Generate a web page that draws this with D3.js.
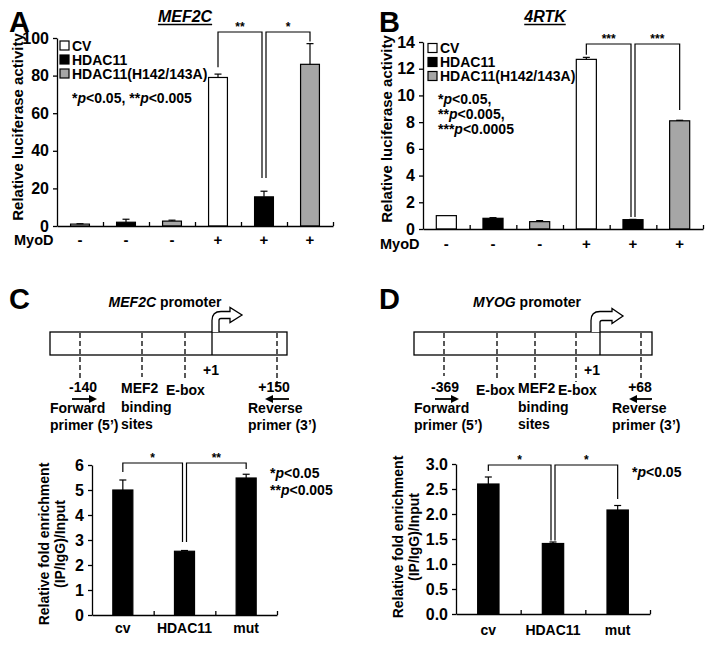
<!DOCTYPE html>
<html>
<head>
<meta charset="utf-8">
<script src="https://cdn.jsdelivr.net/npm/d3@7"></script>
<style>
body { margin: 0; background: #fff; }
svg text { font-family: "Liberation Sans", Arial, sans-serif; font-weight: bold; fill: #000; }
</style>
</head>
<body>
<svg id="fig" width="714" height="647"></svg>
<script>
// ---- data ----
var myodSigns = ["-", "-", "-", "+", "+", "+"];
var lucGroups = ["CV", "HDAC11", "HDAC11(H142/143A)"];
var lucGroupOfBar = [0, 1, 2, 0, 1, 2];
var mef2cLuc = [1.0, 2.0, 2.6, 79, 15.5, 86];
var mef2cLucErr = [0.2, 1.6, 0.5, 1.8, 3.0, 11];
var mef2cTicks = [0, 20, 40, 60, 80, 100];
var rtkLuc = [1.0, 0.8, 0.55, 12.7, 0.7, 8.1];
var rtkLucErr = [0, 0.05, 0.08, 0.15, 0.02, 0.04];
var rtkTicks = [0, 2, 4, 6, 8, 10, 12, 14];
var chipGroups = ["cv", "HDAC11", "mut"];
var chipMef2c = [5.0, 2.55, 5.48];
var chipMef2cErr = [0.4, 0.03, 0.15];
var chipMef2cTicks = [0, 1, 2, 3, 4, 5, 6];
var chipMyog = [2.6, 1.41, 2.08];
var chipMyogErr = [0.14, 0.03, 0.09];
var chipMyogTicks = [0, 0.5, 1.0, 1.5, 2.0, 2.5, 3.0];

var groupFill = ["#ffffff", "#000000", "#a6a6a6"];
var svg = d3.select("#fig");

// generic bar panel
function barPanel(o) {
    var g = svg.append("g");
    var n = o.values.length;
    var y = d3.scaleLinear().domain([0, o.max]).range([o.y0, o.y1]);
    var x = d3.scaleBand().domain(d3.range(n)).range([o.x0, o.x1])
        .paddingInner(o.pad).paddingOuter(o.pad / 2);
    var xb = d3.scaleLinear().domain([0, n]).range([o.x0, o.x1]);

    // bars
    g.selectAll(".bar").data(o.values).enter().append("rect")
        .attr("x", function(d, i) { return x(i); })
        .attr("width", x.bandwidth())
        .attr("y", function(d) { return y(d); })
        .attr("height", function(d) { return o.y0 - y(d); })
        .attr("fill", function(d, i) { return o.fill(i); })
        .attr("stroke", "#000").attr("stroke-width", 1.2);

    // error bars (upper only)
    o.values.forEach(function(v, i) {
        var e = o.errors[i];
        if (!e) return;
        var cx = x(i) + x.bandwidth() / 2;
        g.append("line").attr("x1", cx).attr("x2", cx)
            .attr("y1", y(v)).attr("y2", y(v + e))
            .attr("stroke", "#000").attr("stroke-width", 1.2);
        g.append("line").attr("x1", cx - 3.5).attr("x2", cx + 3.5)
            .attr("y1", y(v + e)).attr("y2", y(v + e))
            .attr("stroke", "#000").attr("stroke-width", 1.2);
    });

    // y axis
    var ya = g.append("g").attr("transform", "translate(" + o.x0 + ",0)")
        .call(d3.axisLeft(y).tickValues(o.ticks).tickSize(4).tickSizeOuter(0)
            .tickPadding(4).tickFormat(o.fmt || d3.format("d")));
    ya.selectAll("text").style("font-size", "16px");
    ya.selectAll("path,line").attr("stroke", "#000").attr("stroke-width", 1.3);

    // x axis with small inward ticks on the category boundaries
    var xa = g.append("g").attr("transform", "translate(0," + o.y0 + ")")
        .call(d3.axisBottom(xb).tickValues(d3.range(1, n + 1)).tickSize(-4)
            .tickSizeOuter(0).tickFormat(""));
    xa.selectAll("path,line").attr("stroke", "#000").attr("stroke-width", 1.3);

    // significance brackets
    var cxOf = function(i, off) { return x(i) + x.bandwidth() / 2 + (off || 0); };
    o.brackets.forEach(function(b) {
        var xa1 = cxOf(b.a, b.offA), xa2 = cxOf(b.b, b.offB);
        var top = y(b.level);
        g.append("path")
            .attr("d", "M" + xa1 + "," + y(b.endA) + "V" + top + "H" + xa2 + "V" + y(b.endB))
            .attr("fill", "none").attr("stroke", "#000").attr("stroke-width", 1.2);
        g.append("text").attr("x", (xa1 + xa2) / 2).attr("y", top - 1)
            .attr("text-anchor", "middle").style("font-size", "12px").text(b.stars);
    });
    return { x: x, y: y, g: g };
}

function yTitle(lines, cx, cy, size) {
    var t = svg.append("text")
        .attr("transform", "translate(" + cx + "," + cy + ") rotate(-90)")
        .attr("text-anchor", "middle").style("font-size", size);
    lines.forEach(function(s, i) {
        t.append("tspan").attr("x", 0).attr("dy", i === 0 ? (-(lines.length - 1) * 0.55 + 0.35) + "em" : "1.1em").text(s);
    });
}

function panelLetter(s, x, y) {
    svg.append("text").attr("x", x).attr("y", y).style("font-size", "29px").text(s);
}

function geneTitle(s, cx, y) {
    var t = svg.append("text").attr("x", cx).attr("y", y).attr("text-anchor", "middle")
        .style("font-size", "16px").style("font-style", "italic").text(s);
    var w = t.node().getComputedTextLength();
    svg.append("line").attr("x1", cx - w / 2).attr("x2", cx + w / 2)
        .attr("y1", y + 2.5).attr("y2", y + 2.5).attr("stroke", "#000").attr("stroke-width", 1.4);
}

function pText(parts, x, y, size) {
    // parts: array of [stars, tail]
    var t = svg.append("text").attr("x", x).attr("y", y).style("font-size", size);
    parts.forEach(function(p) {
        t.append("tspan").text(p[0]);
        t.append("tspan").style("font-style", "italic").text("p");
        t.append("tspan").text(p[1]);
    });
    return t;
}

function legend(x, rows, size) {
    lucGroups.forEach(function(name, i) {
        svg.append("rect").attr("x", x).attr("y", rows[i] - 4.5).attr("width", 9).attr("height", 9)
            .attr("fill", groupFill[i]).attr("stroke", "#000").attr("stroke-width", 1.2);
        svg.append("text").attr("x", x + 12).attr("y", rows[i] + 5).style("font-size", size).text(name);
    });
}

function myodRow(panel, labelX, baseline) {
    svg.append("text").attr("x", labelX).attr("y", baseline).style("font-size", "14.5px").text("MyoD");
    myodSigns.forEach(function(s, i) {
        svg.append("text").attr("x", panel.x(i) + panel.x.bandwidth() / 2).attr("y", baseline)
            .attr("text-anchor", "middle").style("font-size", "15px").text(s);
    });
}

// ---- Panel A ----
panelLetter("A", 9, 32);
geneTitle("MEF2C", 185, 22);
var pa = barPanel({
    x0: 57, x1: 333, y0: 226, y1: 38, max: 100, ticks: mef2cTicks, pad: 0.59,
    values: mef2cLuc, errors: mef2cLucErr,
    fill: function(i) { return groupFill[lucGroupOfBar[i]]; },
    brackets: [
        { a: 3, b: 4, offB: -2, level: 103.2, endA: 84.5, endB: 25.5, stars: "**" },
        { a: 4, b: 5, offA: 2, level: 103.2, endA: 25.5, endB: 98.2, stars: "*" }
    ]
});
yTitle(["Relative luciferase activity"], 18, 127, "15px");
legend(60, [45.5, 59.5, 73.5], "14px");
pText([["*", "<0.05, "], ["**", "<0.005"]], 72, 103, "14px");
myodRow(pa, 14, 245);

// ---- Panel B ----
panelLetter("B", 379, 32);
geneTitle("4RTK", 545, 22);
var pb = barPanel({
    x0: 423, x1: 703, y0: 229, y1: 42, max: 14, ticks: rtkTicks, pad: 0.57,
    values: rtkLuc, errors: rtkLucErr,
    fill: function(i) { return groupFill[lucGroupOfBar[i]]; },
    brackets: [
        { a: 3, b: 4, offB: -2, level: 13.85, endA: 13.05, endB: 0.9, stars: "***" },
        { a: 4, b: 5, offA: 2, level: 13.85, endA: 0.9, endB: 8.9, stars: "***" }
    ]
});
yTitle(["Relative luciferase activity"], 387, 129, "15px");
legend(428, [48, 62, 76], "14px");
pText([["*", "<0.05,"]], 438, 104, "14px");
pText([["**", "<0.005,"]], 438, 119, "14px");
pText([["***", "<0.0005"]], 438, 134, "14px");
myodRow(pb, 380, 249);

// ---- promoter schematics ----
function promoter(o) {
    var t = svg.append("text").attr("x", o.titleX).attr("y", 307).attr("text-anchor", "middle")
        .style("font-size", "14px");
    t.append("tspan").style("font-style", "italic").text(o.gene);
    t.append("tspan").text(" promoter");

    svg.append("rect").attr("x", o.x0).attr("y", 332).attr("width", o.x1 - o.x0).attr("height", 23)
        .attr("fill", "#fff").attr("stroke", "#000").attr("stroke-width", 1.3);
    o.dashes.forEach(function(d) {
        svg.append("line").attr("x1", d[0]).attr("x2", d[0]).attr("y1", 333).attr("y2", d[1])
            .attr("stroke", "#000").attr("stroke-width", 1.3).attr("stroke-dasharray", "5,3");
    });
    // transcription start and bent arrow
    svg.append("line").attr("x1", o.tss).attr("x2", o.tss).attr("y1", 332).attr("y2", 355)
        .attr("stroke", "#000").attr("stroke-width", 1.3);
    var L = o.stemL, w = o.stemW, R = L + w, hb = o.headBase, tip = o.tip;
    var sTop = 311.5, sBot = sTop + w, hc = sTop + w / 2;
    var r1 = 9, r2 = Math.max(r1 - w, 2);
    var p = "M" + L + ",332V" + (sTop + r1) + "Q" + L + "," + sTop + " " + (L + r1) + "," + sTop +
        "H" + hb + "V" + (hc - 7.5) + "L" + tip + "," + hc + "L" + hb + "," + (hc + 7.5) +
        "V" + sBot + "H" + (R + r2) + "Q" + R + "," + sBot + " " + R + "," + (sBot + r2) + "V332";
    svg.append("path").attr("d", p).attr("fill", "#fff").attr("stroke", "#000").attr("stroke-width", 1.3);

    o.labels.forEach(function(l) {
        svg.append("text").attr("x", l[1]).attr("y", l[2]).attr("text-anchor", l[3] || "start")
            .style("font-size", "14px").text(l[0]);
    });
    o.arrows.forEach(function(a) {
        var dir = a[1] > a[0] ? 1 : -1;
        svg.append("line").attr("x1", a[0]).attr("x2", a[1] - dir * 6).attr("y1", 399).attr("y2", 399)
            .attr("stroke", "#000").attr("stroke-width", 1.8);
        svg.append("path").attr("d", "M" + a[1] + ",399L" + (a[1] - dir * 8) + ",395L" + (a[1] - dir * 8) + ",403Z")
            .attr("fill", "#000");
    });
}

panelLetter("C", 9, 309);
promoter({
    gene: "MEF2C", titleX: 165, x0: 50, x1: 287, tss: 212,
    stemL: 212, stemW: 7, headBase: 230, tip: 242,
    dashes: [[80, 378], [142, 377], [185, 378], [277, 389]],
    labels: [["+1", 211, 375, "middle"], ["-140", 83, 392, "middle"],
        ["Forward", 50, 413], ["primer (5\u2019)", 50, 430],
        ["MEF2", 121, 393], ["binding", 121, 412], ["sites", 121, 429],
        ["E-box", 166, 395], ["+150", 274, 392, "middle"],
        ["Reverse", 248, 413], ["primer (3\u2019)", 248, 430]],
    arrows: [[72, 97], [289, 265]]
});

panelLetter("D", 379, 309);
promoter({
    gene: "MYOG", titleX: 527, x0: 414, x1: 652, tss: 600,
    stemL: 591, stemW: 9, headBase: 612, tip: 623,
    dashes: [[444, 376], [497, 380], [535, 380], [576, 382], [641, 378]],
    labels: [["+1", 592, 375, "middle"], ["-369", 445, 392, "middle"],
        ["Forward", 414, 413], ["primer (5\u2019)", 414, 430],
        ["E-box", 476, 395], ["MEF2", 518, 393], ["binding", 518, 412], ["sites", 518, 429],
        ["E-box", 558, 395], ["+68", 640, 392, "middle"],
        ["Reverse", 612, 413], ["primer (3\u2019)", 612, 430]],
    arrows: [[435, 459], [652, 629]]
});

// ---- ChIP bar charts ----
function catLabels(panel, labels, baseline) {
    labels.forEach(function(s, i) {
        svg.append("text").attr("x", panel.x(i) + panel.x.bandwidth() / 2).attr("y", baseline)
            .attr("text-anchor", "middle").style("font-size", "14px").text(s);
    });
}

var pc = barPanel({
    x0: 92, x1: 277, y0: 615, y1: 465, max: 6, ticks: chipMef2cTicks, pad: 0.675,
    values: chipMef2c, errors: chipMef2cErr,
    fill: function() { return "#000"; },
    brackets: [
        { a: 0, b: 1, offB: -2, level: 6.08, endA: 5.72, endB: 2.92, stars: "*" },
        { a: 1, b: 2, offA: 2, level: 6.08, endA: 2.92, endB: 5.84, stars: "**" }
    ]
});
catLabels(pc, chipGroups, 633);
yTitle(["Relative fold enrichment", "(IP/IgG)/Input"], 52, 544, "14px");
pText([["*", "<0.05"]], 270, 478, "14px");
pText([["**", "<0.005"]], 270, 495, "14px");

var pd = barPanel({
    x0: 456, x1: 650, y0: 614, y1: 464, max: 3, ticks: chipMyogTicks, pad: 0.67,
    values: chipMyog, errors: chipMyogErr, fmt: d3.format(".1f"),
    fill: function() { return "#000"; },
    brackets: [
        { a: 0, b: 1, offB: -2, level: 2.98, endA: 2.86, endB: 1.47, stars: "*" },
        { a: 1, b: 2, offA: 2, level: 2.98, endA: 1.47, endB: 2.3, stars: "*" }
    ]
});
catLabels(pd, chipGroups, 635);
yTitle(["Relative fold enrichment", "(IP/IgG)/Input"], 406, 537, "14px");
pText([["*", "<0.05"]], 632, 477, "14px");
</script>
</body>
</html>
